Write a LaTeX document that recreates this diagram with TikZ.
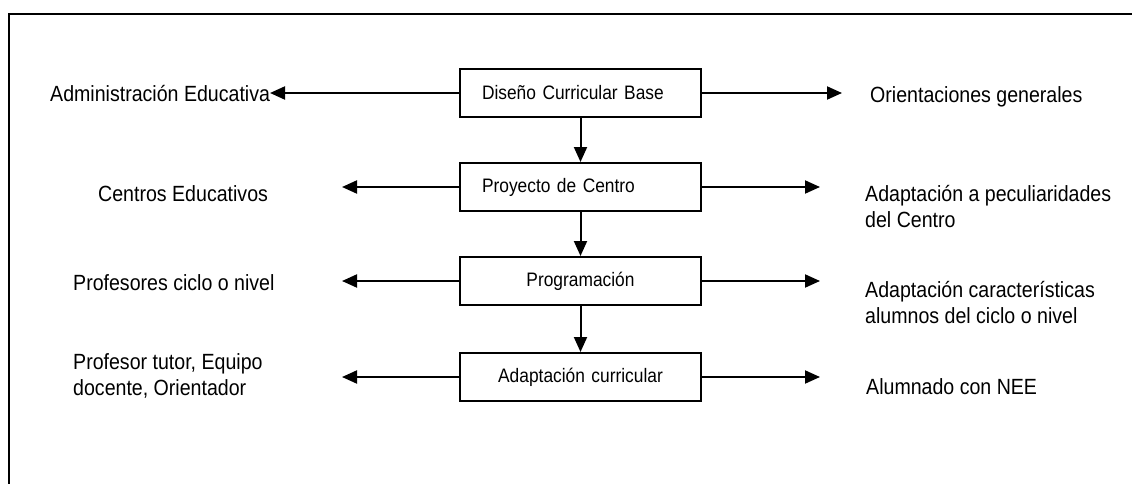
\documentclass[tikz,border=0pt]{standalone}
\usepackage{fontspec}
\setmainfont{Liberation Sans}[FakeStretch=0.89]
\usetikzlibrary{arrows.meta,positioning}

\begin{document}
\begin{tikzpicture}[
  x=1pt, y=-1pt,
  font=\fontsize{22}{26}\selectfont,
  box/.style={draw, line width=2pt,
              minimum width=241pt, minimum height=48pt,
              text width=197pt, inner xsep=22pt, inner ysep=0pt,
              font=\fontsize{19.5}{23}\selectfont},
  boxl/.style={box, align=left},
  boxc/.style={box, align=center},
  lbl/.style={anchor=base west, inner sep=0pt, align=left},
  arr/.style={-{Triangle[length=15pt, width=13pt]}, line width=2pt},
]

% box column centre, arrow tip columns
\def\cx{580.5}
\def\tl{342}
\def\tr{820}

%% ---- outer frame ----
\useasboundingbox (0,0) rectangle (1132,484);
\draw[line width=2pt] (9,484) -- (9,14) -- (1132,14);

%% ---- CENTRE COLUMN ----
\node[boxl] (dcb)  at (\cx, 93)  {Diseño Curricular Base};
\node[boxl] (pc)   at (\cx, 187) {Proyecto de Centro};
\node[boxc] (prog) at (\cx, 281) {Programación};
\node[boxc] (ac)   at (\cx, 377) {Adaptación curricular};
\foreach \a/\b in {dcb/pc,pc/prog,prog/ac}{\draw[arr](\a)--(\b);}

%% ---- LEFT: who ----
% (base of a two-line label = its last line)
\node[lbl] (adm)  at (50, 102) {Administración Educativa};
\node[lbl] (cen)  at (98, 201) {Centros Educativos};
\node[lbl] (prof) at (73, 290) {Profesores ciclo o nivel};
\node[lbl] (tut)  at (73, 395) {Profesor tutor, Equipo\\docente, Orientador};

\coordinate (la1) at (270, 93);
\coordinate (la2) at (\tl, 187);
\coordinate (la3) at (\tl, 281);
\coordinate (la4) at (\tl, 377);
\draw[arr] (dcb.west)  -- (la1);
\draw[arr] (pc.west)   -- (la2);
\draw[arr] (prog.west) -- (la3);
\draw[arr] (ac.west)   -- (la4);

%% ---- RIGHT: what for ----
\node[lbl] (ori)  at (870, 103) {Orientaciones generales};
\node[lbl] (pec)  at (865, 227) {Adaptación a peculiaridades\\del Centro};
\node[lbl] (car)  at (865, 323) {Adaptación características\\alumnos del ciclo o nivel};
\node[lbl] (nee)  at (866, 394) {Alumnado con NEE};

\coordinate (ra1) at (842, 93);
\coordinate (ra2) at (\tr, 187);
\coordinate (ra3) at (\tr, 281);
\coordinate (ra4) at (\tr, 377);
\draw[arr] (dcb.east)  -- (ra1);
\draw[arr] (pc.east)   -- (ra2);
\draw[arr] (prog.east) -- (ra3);
\draw[arr] (ac.east)   -- (ra4);

\end{tikzpicture}
\end{document}
